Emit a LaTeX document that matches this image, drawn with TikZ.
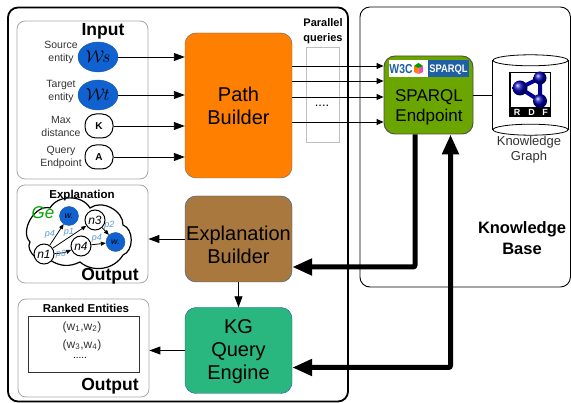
\documentclass[tikz,border=0pt]{standalone}
\usepackage{tikz}
\usepackage{xcolor}
\usepackage{amsmath}
\usepackage{amssymb}
\usepackage{fontspec}
\setmainfont{Liberation Sans}
\usetikzlibrary{arrows.meta,shapes.geometric}

\definecolor{pathorange}{HTML}{FF8000}
\definecolor{brownbox}{HTML}{A9783F}
\definecolor{greenbox}{HTML}{2AB67F}
\definecolor{sparqlgreen}{HTML}{6AA500}
\definecolor{wblue}{HTML}{0F62D0}
\definecolor{plabel}{HTML}{5B9BD5}
\definecolor{edgeblue}{HTML}{1F5A99}
\definecolor{w3cblue}{HTML}{1F5FA5}

\tikzset{
    frame/.style={draw=black, rounded corners=10pt, inner sep=0pt, outer sep=0pt},
    graybox/.style={draw=black!35, rounded corners=8pt, inner sep=0pt, line width=0.8pt},
    engine/.style={draw=edgeblue, rounded corners=11pt, minimum width=107pt, minimum height=86pt, inner sep=0pt},
    enginetext/.style={inner sep=0pt, align=center, font=\fontsize{20}{23}\selectfont},
    label/.style={inner sep=0pt, align=center, font=\fontsize{10.5}{13}\selectfont, text=black!80},
    title/.style={inner sep=0pt, align=center, font=\bfseries\fontsize{11.5}{15}\selectfont},
    bigtitle/.style={inner sep=0pt, font=\bfseries\fontsize{17.5}{18}\selectfont},
    entity/.style={draw=edgeblue, fill=wblue, ellipse, minimum width=40pt, minimum height=30pt, inner sep=0pt, font=\fontsize{17}{17}\selectfont},
    param/.style={draw, line width=1pt, rounded corners=11pt, minimum width=28pt, minimum height=24pt, inner sep=0pt, font=\bfseries\fontsize{10}{10}\selectfont},
    vertex/.style={draw, line width=1pt, circle, fill=white, minimum size=20pt, inner sep=0pt, font=\itshape\fontsize{12}{12}\selectfont\rmfamily},
    bluevertex/.style={draw=edgeblue, circle, fill=wblue, minimum size=19pt, inner sep=0pt, font=\itshape\fontsize{9}{9}\selectfont\rmfamily},
    plab/.style={inner sep=0pt, text=plabel, font=\itshape\fontsize{9}{9}\selectfont\rmfamily},
    flow/.style={-{Triangle[length=11pt,width=8pt]}, line width=0.9pt},
    tiny flow/.style={-{Triangle[length=5pt,width=4pt]}, line width=0.8pt},
    heavy/.style={{Triangle[length=20pt,width=16pt]}-, line width=5pt, rounded corners=2pt},
    heavy both/.style={{Triangle[length=20pt,width=16pt]}-{Triangle[length=20pt,width=16pt]}, line width=5pt, rounded corners=2pt}
}

\begin{document}
\begin{tikzpicture}[x=1pt, y=-1pt]
    \useasboundingbox (0,0) rectangle (571,403);

    % Frames
    \node[frame, line width=1.8pt, minimum width=340pt, minimum height=394pt] (system) at (178,204.5) {};
    \node[frame, line width=0.9pt, minimum width=210.5pt, minimum height=280pt] (kbase) at (465.2,147) {};
    \node[inner sep=0pt, align=center, font=\bfseries\fontsize{16.5}{21}\selectfont] (kbtext) at (522,238) {Knowledge\\Base};

    % Input
    \node[graybox, minimum width=131pt, minimum height=158pt] (inputbox) at (82.5,100) {};
    \node[bigtitle] (inputtext) at (103,31) {Input};
    \node[entity] (ws) at (98,57) {$\mathcal{W}\mkern-2mu s$};
    \node[entity] (wt) at (98,95) {$\mathcal{W}\mkern-1mu t$};
    \node[param] (maxk) at (99,126) {K};
    \node[param] (endp) at (99,157) {A};
    \node[label] (wslabel) at (61,52) {Source\\entity};
    \node[label] (wtlabel) at (61,91.5) {Target\\entity};
    \node[label] (klabel) at (61,126.5) {Max\\distance};
    \node[label] (alabel) at (61,157) {Query\\Endpoint};

    % Builders
    \node[engine, fill=pathorange, draw=black!60, minimum height=145pt] (pathbuilder) at (238.5,105.5) {};
    \node[enginetext] (pathtext) at (238.5,106) {Path\\Builder};
    \node[engine, fill=brownbox] (explbuilder) at (238.5,239) {};
    \node[enginetext] (expltext) at (238.5,245) {Explanation\\Builder};
    \node[engine, fill=greenbox] (queryengine) at (238.5,350.5) {};
    \node[enginetext] (querytext) at (238.5,351.5) {KG\\Query\\Engine};

    % Parallel queries
    \node[draw=black!25, line width=0.8pt, minimum width=33pt, minimum height=95pt, inner sep=0pt] (parallel) at (322.5,94.5) {};
    \node[inner sep=0pt, align=center, font=\bfseries\fontsize{11}{15}\selectfont] (paralleltext) at (323,31) {Parallel\\queries};
    \node[inner sep=0pt, font=\fontsize{13}{13}\selectfont] (dots) at (322,106) {....};

    % Endpoint
    \node[draw=black!70, fill=sparqlgreen, rounded corners=11pt, line width=0.9pt, minimum width=89pt, minimum height=78pt, inner sep=0pt] (endpoint) at (428.5,95) {};
    \node[inner sep=0pt, align=center, font=\fontsize{17}{20}\selectfont] (endpointtext) at (429,107.5) {SPARQL\\Endpoint};
    \node[fill=white, minimum width=40pt, minimum height=17pt, inner sep=0pt] (w3clogo) at (408.5,69) {};
    \node[fill=w3cblue, minimum width=41pt, minimum height=17pt, inner sep=0pt] (sparqllogo) at (448.5,69) {};
    \node[inner sep=0pt, text=w3cblue, xscale=0.8, font=\bfseries\fontsize{13}{13}\selectfont] (w3ctext) at (401,69) {W3C};
    \node[inner sep=0pt, text=white, xscale=0.85, font=\bfseries\fontsize{11}{11}\selectfont] (sparqltext) at (448.5,69.5) {SPARQL};
    \fill[orange] (414,66) -- (418.5,68) -- (418.5,74) -- (414,72) -- cycle;
    \fill[magenta!70] (418.5,68) -- (423,66) -- (423,72) -- (418.5,74) -- cycle;
    \fill[green!60!black] (414,66) -- (418.5,63) -- (423,66) -- (418.5,68) -- cycle;

    % Knowledge graph
    \node[minimum width=75pt, minimum height=69pt, inner sep=0pt] (store) at (530.5,95) {};
    \draw[line width=0.8pt] (store.north west) -- (store.south west);
    \draw[line width=0.8pt] (store.north east) -- (store.south east);
    \node[draw, ellipse, minimum width=75pt, minimum height=11pt, inner sep=0pt, line width=0.8pt] (storetop) at (store.north) {};
    \node[draw, ellipse, minimum width=75pt, minimum height=11pt, inner sep=0pt, line width=0.8pt] (storebase) at (store.south) {};
    \node[fill=black, minimum width=42pt, minimum height=45pt, inner sep=0pt] (rdflogo) at (530,95) {};
    \node[fill=white, minimum width=39pt, minimum height=34pt, inner sep=0pt] (rdfwhite) at (530,90) {};
    \draw[blue!60!black, line width=4pt] (540,78) -- (520,88) -- (540,101) -- cycle;
    \shade[ball color=blue!70!black] (540,78) circle (6.5pt);
    \shade[ball color=blue!70!black] (520,88) circle (7.5pt);
    \shade[ball color=blue!70!black] (540,101) circle (7pt);
    \foreach \x/\t in {517/R, 531.5/D, 545/F}
        \node[inner sep=0pt, text=white, font=\bfseries\fontsize{9}{9}\selectfont] at (\x,112.5) {\t};
    \node[inner sep=0pt, align=center, font=\fontsize{13}{15}\selectfont, text=black!80] (storetext) at (529,149.5) {Knowledge\\Graph};

    % Explanation output
    \node[graybox, minimum width=131pt, minimum height=98pt] (explbox) at (82.5,234) {};
    \node[title] (expltitle) at (82,195.5) {Explanation};
    \draw[line width=1.2pt] (30,242) to[bend left=75] (50,208) to[bend left=60] (90,208)
        to[bend left=65] (123,225) to[bend left=70] (123,255)
        to[bend left=50] (80,262) to[bend left=30] (50,260) to[bend left=80] cycle;
    \node[inner sep=0pt, text=green!65!black, font=\itshape\fontsize{17}{17}\selectfont] (getext) at (43,213) {Ge};
    \node[vertex] (n1) at (44,254) {n1};
    \node[bluevertex] (w1) at (69,216) {w.};
    \node[vertex] (n3) at (95,220) {n3};
    \node[vertex] (n4) at (81,246) {n4};
    \node[bluevertex] (w2) at (115.5,242) {w.};
    \draw[tiny flow] (n1) -- (w1);
    \draw[tiny flow] (n1) -- (n3);
    \draw[tiny flow] (n1) to[bend right=10] (n4);
    \draw[tiny flow] (n3) -- (w2);
    \draw[tiny flow] (n4) -- (w2);
    \node[plab] (p4a) at (50,234) {p4};
    \node[plab] (p1) at (69,232) {p1};
    \node[plab] (p3) at (61,254) {p3};
    \node[plab] (p4b) at (97,238) {p4};
    \node[plab] (p2) at (109.5,225) {p2};
    \node[bigtitle] (outone) at (110,276) {Output};

    % Ranked output
    \node[graybox, minimum width=131pt, minimum height=98pt] (rankbox) at (83.5,348) {};
    \node[title] (ranktext) at (86,308) {Ranked Entities};
    \node[draw=black!80, line width=0.9pt, minimum width=111pt, minimum height=56pt, inner sep=0pt] (rankinner) at (83.5,344) {};
    \node[inner sep=0pt, font=\fontsize{12}{12}\selectfont, text=black!80] (pairone) at (82,327) {(w\textsubscript{1},w\textsubscript{2})};
    \node[inner sep=0pt, font=\fontsize{12}{12}\selectfont, text=black!80] (pairtwo) at (82,345) {(w\textsubscript{3},w\textsubscript{4})};
    \node[inner sep=0pt, font=\fontsize{10}{10}\selectfont] (pairdots) at (80,358) {.....};
    \node[bigtitle] (outtwo) at (110,386) {Output};

    % Arrows
    \foreach \n in {ws, wt, maxk, endp}
        \draw[flow] (\n) -- (\n -| pathbuilder.west);
    \foreach \y in {66, 81, 97, 122}
        \draw[flow, -{Triangle[length=7pt,width=6pt]}] (pathbuilder.east |- 0,\y) -- (endpoint.west |- 0,\y);
    \draw[line width=0.9pt] (endpoint.east) -- (store.west |- endpoint.east);
    \draw[flow] (explbuilder.west) -- (inputbox.east |- explbuilder.west);
    \draw[flow] (queryengine.west) -- (rankbox.east |- queryengine.west);
    \draw[flow] (explbuilder.south) -- (queryengine.north);

    % Heavy arrows
    \draw[heavy] ([yshift=-28pt]explbuilder.east) -| ([xshift=-13.5pt]endpoint.south);
    \draw[heavy both] ([yshift=-17pt]queryengine.east) -| ([xshift=22pt]endpoint.south);
\end{tikzpicture}
\end{document}
